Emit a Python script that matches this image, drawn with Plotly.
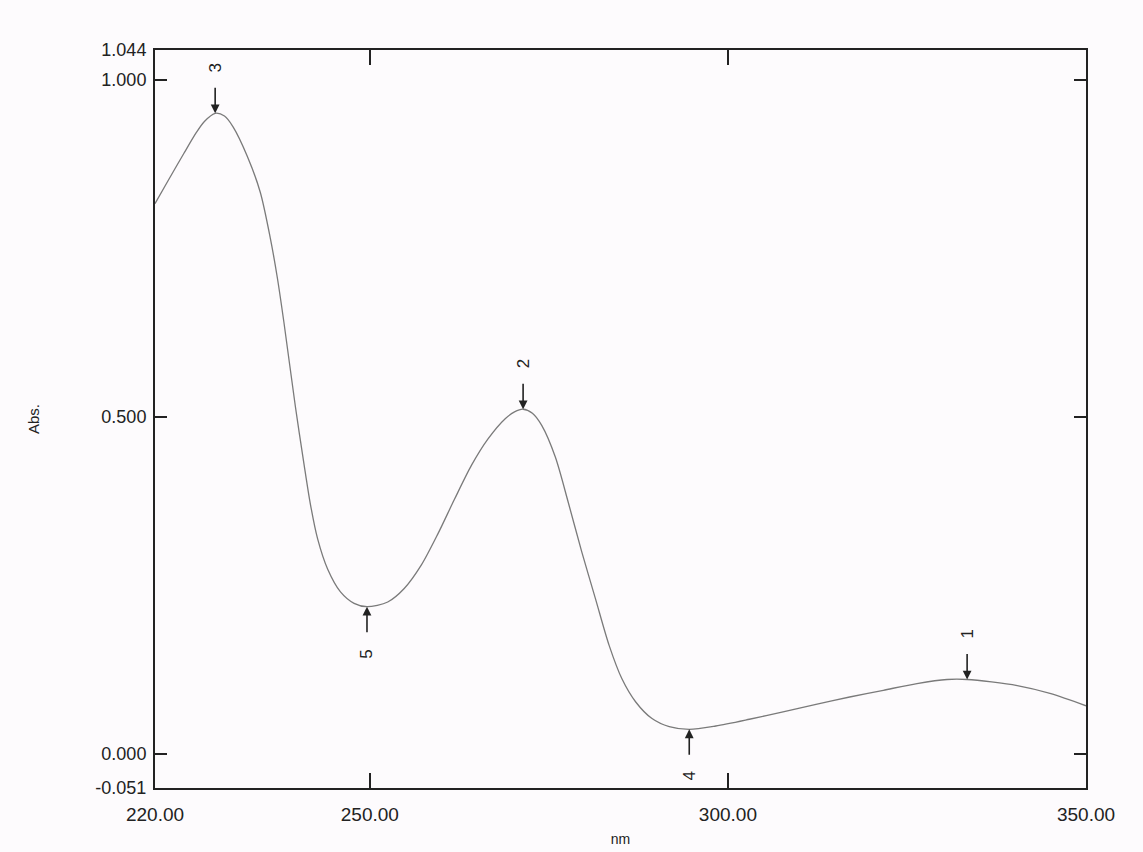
import numpy as np
import plotly.graph_objects as go

# Spectrum (wavelength nm, absorbance)
wavelength = [220.0, 221.6, 224.0, 225.8, 226.9, 228.4, 229.7, 230.9, 232.9, 234.7,
              236.1, 237.1, 238.0, 239.6, 240.8, 241.7, 242.7, 244.1, 245.9, 247.8,
              249.6, 252.5, 254.8, 257.2, 259.5, 261.8, 264.2, 266.5, 268.9, 270.2,
              271.4, 272.7, 274.0, 275.9, 277.7, 279.6, 281.5, 283.4, 285.2, 287.1,
              289.4, 291.8, 294.6, 298.3, 303.0, 307.7, 312.3, 317.0, 321.7, 326.4,
              330.6, 333.4, 340.4, 345.1, 350.0]
absorbance = [0.816, 0.846, 0.890, 0.922, 0.938, 0.950, 0.946, 0.930, 0.886, 0.833,
              0.765, 0.705, 0.640, 0.515, 0.430, 0.370, 0.319, 0.274, 0.240, 0.223,
              0.218, 0.225, 0.245, 0.280, 0.326, 0.377, 0.428, 0.467, 0.497, 0.507,
              0.511, 0.505, 0.487, 0.440, 0.373, 0.299, 0.230, 0.161, 0.111, 0.077,
              0.052, 0.040, 0.036, 0.041, 0.051, 0.062, 0.073, 0.084, 0.094, 0.104,
              0.110, 0.110, 0.101, 0.089, 0.071]

# Peak / valley picks
pick_labels = ["1", "2", "3", "4", "5"]
pick_nm = [333.4, 271.4, 228.4, 294.6, 249.6]
pick_kind = ["max", "max", "max", "min", "min"]

x_tickvals = [220, 250, 300, 350]
x_ticktext = ["220.00", "250.00", "300.00", "350.00"]
y_tickvals = [-0.051, 0.0, 0.5, 1.0, 1.044]
y_ticktext = ["-0.051", "0.000", "0.500", "1.000", "1.044"]

FONT = "Liberation Sans, Arial, sans-serif"

fig = go.Figure()
fig.add_trace(go.Scatter(
    x=wavelength, y=absorbance, mode="lines",
    line=dict(color="#7a7a7a", width=1.3, shape="spline", smoothing=0.8),
    hoverinfo="skip", showlegend=False))

annotations = []
for lab, nm, kind in zip(pick_labels, pick_nm, pick_kind):
    yv = float(np.interp(nm, wavelength, absorbance))
    if kind == "max":
        ay, tshift = -27, 45
    else:
        ay, tshift = 27, -47
    annotations.append(dict(
        x=nm, y=yv, xref="x", yref="y", text="", showarrow=True,
        ax=0, ay=ay, arrowhead=2, arrowsize=1.1, arrowwidth=1.6,
        arrowcolor="#222222"))
    annotations.append(dict(
        x=nm, y=yv, xref="x", yref="y", text=lab, showarrow=False,
        yshift=tshift, textangle=-90,
        font=dict(family=FONT, size=17, color="#222222")))

fig.update_layout(
    width=1143, height=852,
    margin=dict(l=155, r=57, t=50, b=64),
    paper_bgcolor="#fdfbfd", plot_bgcolor="#fdfbfd",
    annotations=annotations,
    font=dict(family=FONT, color="#222222"),
)
fig.update_xaxes(
    range=[220, 350], tickvals=x_tickvals, ticktext=x_ticktext,
    ticks="inside", ticklen=15, tickwidth=1.6, tickcolor="#222222",
    showline=True, linewidth=2, linecolor="#222222", mirror="ticks",
    showgrid=False, zeroline=False, automargin=False,
    tickfont=dict(family=FONT, size=19, color="#222222"),
    ticklabelstandoff=8,
    title=dict(text="nm", font=dict(family=FONT, size=14, color="#222222"), standoff=10),
)
fig.update_yaxes(
    range=[-0.051, 1.044], tickvals=y_tickvals, ticktext=y_ticktext,
    ticks="inside", ticklen=12, tickwidth=1.6, tickcolor="#222222",
    showline=True, linewidth=2, linecolor="#222222", mirror="ticks",
    showgrid=False, zeroline=False, automargin=False,
    tickfont=dict(family=FONT, size=18, color="#222222"),
    ticklabelstandoff=3,
    title=dict(text="Abs.", font=dict(family=FONT, size=15, color="#222222"), standoff=52),
)

fig.write_html("out.html")
